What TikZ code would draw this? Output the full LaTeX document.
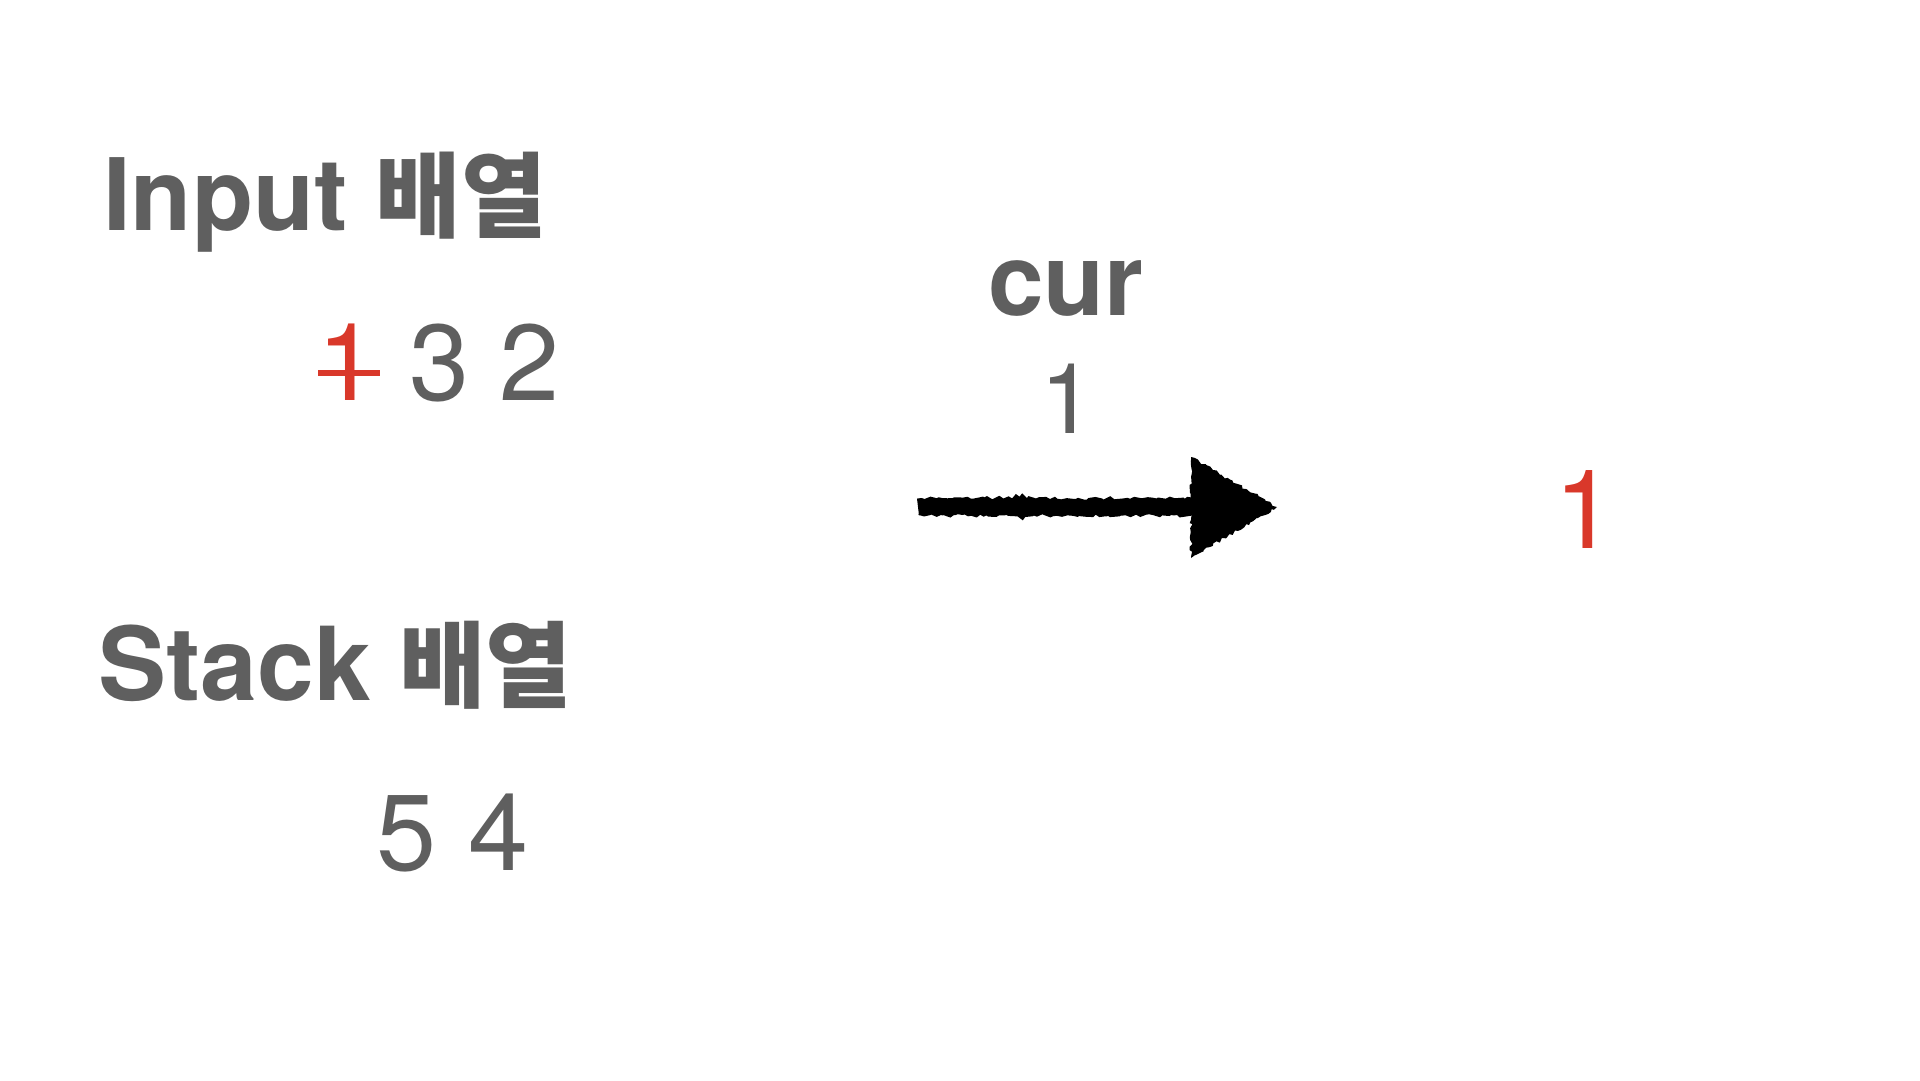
\documentclass[tikz,border=0pt]{standalone}
\usepackage{fontspec}
\setmainfont{TeX Gyre Heros}
\newfontfamily\kor{Noto Sans CJK KR}
\usetikzlibrary{decorations.pathmorphing}
\definecolor{txtgray}{HTML}{5F5F5F}
\definecolor{hlred}{HTML}{D9382A}
\begin{document}
\begin{tikzpicture}[x=1pt,y=-1pt,
  every node/.style={inner sep=0pt, outer sep=0pt},
  title/.style={font=\fontsize{100}{110}\selectfont\bfseries, text=txtgray, anchor=base west},
  num/.style={font=\fontsize{108}{120}\selectfont, text=txtgray, anchor=base west},
  rednum/.style={num, text=hlred},
  rough/.style={decorate, decoration={random steps, segment length=3pt, amplitude=1.5pt}}]
\pgfmathsetseed{7}
\useasboundingbox[fill=white] (0,0) rectangle (1920,1080);
% titles
\node[title] (input) at (103,230) {Input \fontsize{93}{100}\kor\bfseries 배열};
\node[title, font=\fontsize{102}{110}\selectfont\bfseries] (stack) at (98,700) {Stack \fontsize{94}{100}\kor\bfseries 배열};
% input digits
\node[rednum] (n1) at (317,400) {1};
\node[num] (n3) at (409,400) {3};
\node[num] (n2) at (499,400) {2};
\draw[hlred, line width=6pt] (318,373) -- (380,373);
% stack digits
\node[num] (s5) at (376,870) {5};
\node[num] (s4) at (468,870) {4};
% cur
\node[font=\fontsize{100}{110}\selectfont\bfseries, text=txtgray, anchor=base] (cur) at (1066,315) {cur};
\node[font=\fontsize{98}{110}\selectfont, text=txtgray, anchor=base] (curv) at (1068,433) {1};
% result
\node[font=\fontsize{110}{120}\selectfont, text=hlred, anchor=base] (res) at (1585,548) {1};
% arrow
\coordinate (as) at (918,507);
\coordinate (ae) at (1196,507);
\draw[black, line width=17pt, rough] (as) -- (ae);
\fill[black, rough] (1191,457) -- (1277,507) -- (1191,558) -- cycle;
\end{tikzpicture}
\end{document}
